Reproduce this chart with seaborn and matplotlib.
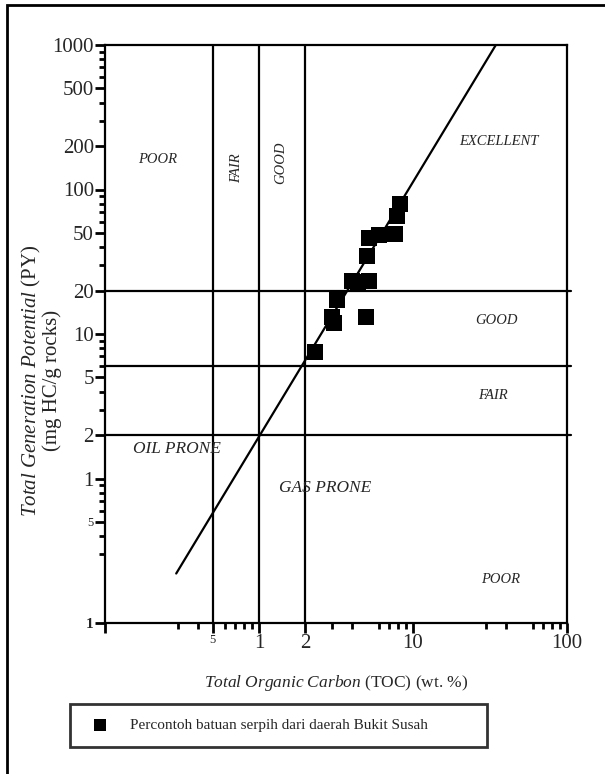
import matplotlib
matplotlib.use("Agg")
import matplotlib.pyplot as plt
import matplotlib.ticker as mticker
from matplotlib.patches import Rectangle
import seaborn as sns
import pandas as pd

# sample points (TOC wt.%, PY mg HC/g rock)
toc = [8.2, 7.9, 7.6, 5.15, 6.0, 5.0, 4.0, 4.4, 5.15, 3.2, 3.0, 3.05, 4.95, 2.3]
py = [80.0, 66.0, 49.6, 46.5, 48.3, 34.9, 23.4, 22.8, 23.2, 17.3, 13.2, 11.9, 13.2, 7.47]

# oil/gas prone dividing line
line_x = [0.29, 34.5]
line_y = [0.22, 1000.0]

# classification boundaries
toc_limits = [0.5, 1, 2]
py_limits = [2, 6, 20]

x_ticks = [0.1, 0.5, 1, 2, 10, 100]
x_labels = ["", "5", "1", "2", "10", "100"]
y_ticks = [0.1, 0.5, 1, 2, 5, 10, 20, 50, 100, 200, 500, 1000]
y_labels = ["1", "5", "1", "2", "5", "10", "20", "50", "100", "200", "500", "1000"]

legend_label = "Percontoh batuan serpih dari daerah Bukit Susah"

sns.set_style("ticks")
plt.rcParams["font.family"] = ["Liberation Serif", "DejaVu Serif"]
plt.rcParams["mathtext.fontset"] = "custom"
plt.rcParams["mathtext.rm"] = "Liberation Serif"
plt.rcParams["mathtext.it"] = "Liberation Serif:italic"

df = pd.DataFrame({"toc": toc, "py": py})
df_line = pd.DataFrame({"x": line_x, "y": line_y})

fig = plt.figure(figsize=(6.05, 7.74), dpi=100)
ax = fig.add_axes([105 / 605, 1 - 623 / 774, 462 / 605, 578 / 774])

lw = 1.6
for xv in toc_limits:
    ax.axvline(xv, color="black", lw=lw, zorder=1)
for yv in py_limits:
    ax.axhline(yv, xmax=1.008, color="black", lw=lw, zorder=1, clip_on=False)

sns.lineplot(data=df_line, x="x", y="y", color="black", lw=lw, ax=ax, zorder=2)
sns.scatterplot(data=df, x="toc", y="py", marker="s", s=135, color="black",
                edgecolor="black", linewidth=0, ax=ax, zorder=3, label=legend_label,
                legend=False)

ax.set_xscale("log")
ax.set_yscale("log")
ax.set_xlim(0.1, 100)
ax.set_ylim(0.1, 1000)

ax.set_xticks(x_ticks)
ax.set_xticklabels(x_labels)
ax.set_yticks(y_ticks)
ax.set_yticklabels(y_labels)
ax.xaxis.set_minor_locator(mticker.LogLocator(base=10, subs=[3, 4, 6, 7, 8, 9], numticks=20))
ax.yaxis.set_minor_locator(mticker.LogLocator(base=10, subs=[3, 4, 6, 7, 8, 9], numticks=20))
ax.xaxis.set_minor_formatter(mticker.NullFormatter())
ax.yaxis.set_minor_formatter(mticker.NullFormatter())
ax.tick_params(which="major", direction="out", length=7, width=2, labelsize=15, pad=1, color="black")
ax.tick_params(which="minor", direction="out", length=4, width=2, color="black")

for lab in ax.get_xticklabels():
    if lab.get_text() == "5":
        lab.set_fontsize(9)
ylabs = ax.get_yticklabels()
ylabs[0].set_fontsize(11)
ylabs[0].set_fontweight("bold")
ylabs[1].set_fontsize(9)

for sp in ax.spines.values():
    sp.set_visible(True)
    sp.set_linewidth(lw)
    sp.set_color("black")

ax.set_xlabel(r"$\it{Total\ Organic\ Carbon}$ (TOC) (wt. %)", fontsize=12.5, labelpad=14)
ax.set_ylabel(r"$\it{Total\ Generation\ Potential}$ (PY)" + "\n(mg HC/g rocks)",
              fontsize=15, linespacing=1.0)
ax.yaxis.set_label_coords(-0.092, 0.42)

txt = dict(fontstyle="italic", fontsize=10.5, ha="center", va="center")
ax.text(0.22, 162, "POOR", **txt)
ax.text(0.71, 141, "FAIR", rotation=90, **txt)
ax.text(1.39, 152, "GOOD", rotation=90, **txt)
ax.text(36, 215, "EXCELLENT", **txt)
ax.text(34.9, 12.4, "GOOD", **txt)
ax.text(32.9, 3.75, "FAIR", **txt)
ax.text(37.1, 0.2, "POOR", **txt)
ax.text(0.291, 1.59, "OIL PRONE", fontstyle="italic", fontsize=12.5, ha="center", va="center")
ax.text(2.7, 0.856, "GAS PRONE", fontstyle="italic", fontsize=12.5, ha="center", va="center")

handles, labels = ax.get_legend_handles_labels()
leg = fig.legend(handles, labels, loc="center",
                 bbox_to_anchor=(70 / 605, 1 - 748 / 774, 417 / 605, 45 / 774),
                 mode="expand", borderaxespad=0, fontsize=11, frameon=True,
                 fancybox=False, borderpad=0.95, handletextpad=1.0,
                 markerscale=0.8)
leg.get_frame().set_edgecolor("black")
leg.get_frame().set_linewidth(2)

# outer frame
fig.add_artist(Rectangle((7 / 605, -0.05), 1.0, 1 - 5 / 774 + 0.05,
                         transform=fig.transFigure, fill=False,
                         edgecolor="black", linewidth=2, clip_on=False))

fig.savefig("out.png", dpi=100)
